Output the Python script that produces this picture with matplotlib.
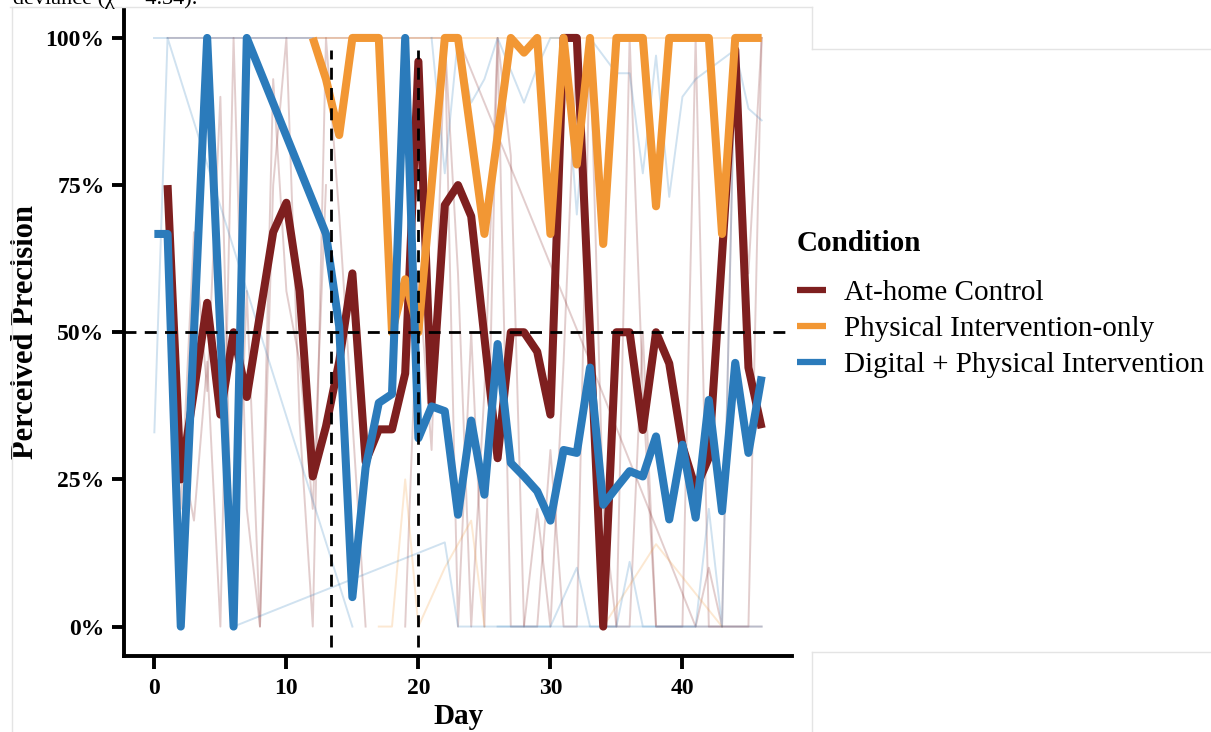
import matplotlib
matplotlib.use("Agg")
import matplotlib.pyplot as plt
from matplotlib.lines import Line2D

plt.rcParams['font.family'] = ['Liberation Serif', 'DejaVu Serif']

conditions = ["At-home Control", "Physical Intervention-only",
              "Digital + Physical Intervention"]
colors = ["#7e1f1f", "#f29734", "#2b7bbb"]

# daily group means (percent)
control_days = [1, 2, 4, 5, 6, 7, 9, 10, 11, 12, 13, 14, 15, 16, 17, 18, 19, 20,
                21, 22, 23, 24, 26, 27, 28, 29, 30, 31, 32, 34, 35, 36, 37, 38,
                39, 40, 41, 42, 43, 44, 45, 46]
control_vals = [75, 25, 55, 36, 50, 39, 67, 72, 57, 25.5, 34, 45, 60, 28, 33.5, 33.5, 43, 96,
                38, 71.6, 75, 69.7, 28.6, 50, 50, 46.7, 36, 100, 100, 0, 50, 50, 33.4, 50,
                44.7, 30.7, 23.4, 28.7, 63, 98, 44, 33.7]

physical_days = [12, 13, 14, 15, 16, 17, 18, 19, 20, 22, 23, 25, 27, 28, 29, 30, 31,
                 32, 33, 34, 35, 36, 37, 38, 39, 40, 41, 42, 43, 44, 45, 46]
physical_vals = [100, 93, 83.5, 100, 100, 100, 50, 59, 50, 100, 100, 66.7, 100, 97.5,
                 100, 66.7, 100, 78.5, 100, 65, 100, 100, 100, 71.4, 100, 100, 100,
                 100, 66.7, 100, 100, 100]

digital_days = [0, 1, 2, 4, 6, 7, 13, 14, 15, 16, 17, 18, 19, 20, 21, 22, 23, 24, 25,
                26, 27, 28, 29, 30, 31, 32, 33, 34, 35, 36, 37, 38, 39, 40, 41, 42,
                43, 44, 45, 46]
digital_vals = [66.7, 66.7, 0, 100, 0, 100, 66.7, 51, 5, 27, 38, 39.5, 100, 32, 37.4,
                36.6, 19, 35, 22.4, 48, 27.8, 25.5, 23, 18, 30, 29.5, 44, 20.7, 23.6,
                26.4, 25.5, 32.3, 18.2, 30.9, 18.5, 38.5, 19.6, 44.8, 29.5, 42.5]

# individual participants (faint), rough estimates
faint_control = [
    ([1, 23, 33, 41, 46], [100, 100, 45, 0, 0]),
    ([1, 2, 3, 4, 5, 6, 7, 8, 9, 10, 11, 12, 13],
     [55, 20, 67, 40, 90, 0, 57, 0, 93, 57, 45, 20, 75]),
    ([2, 3, 4, 5, 6, 7, 8, 9, 10, 11, 12, 13, 14, 15, 16],
     [30, 18, 45, 0, 100, 20, 0, 75, 100, 35, 0, 100, 70, 35, 0]),
    (list(range(19, 47)),
     [0, 60, 30, 100, 60, 0, 40, 100, 0, 0, 20, 0, 45, 100, 55, 0, 0, 100, 40, 0,
      0, 0, 0, 10, 0, 100, 60, 100]),
    (list(range(22, 47)),
     [100, 0, 50, 0, 100, 80, 0, 0, 30, 0, 0, 100, 20, 0, 0, 50, 0, 0, 0, 100, 0,
      0, 0, 0, 100]),
]
faint_physical = [
    ([12, 46], [100, 100]),
    ([17, 18, 19, 20, 22, 24, 25], [0, 0, 25, 0, 10, 18, 0]),
    ([34, 38, 43], [0, 14, 0]),
]
faint_digital = [
    ([0, 12], [100, 100]),
    ([0, 1, 15], [33, 100, 0]),
    ([6, 22, 23, 46], [0, 14.3, 0, 0]),
    ([21, 22, 23, 24, 25, 26, 28, 29, 30, 31, 32, 33, 35, 36, 37, 38, 39, 40, 41,
      44, 45, 46],
     [100, 77, 100, 89, 93, 100, 89, 95, 100, 100, 70, 100, 94, 94, 77, 97, 73, 90,
      93, 98, 88, 86]),
    ([26, 28, 30, 32, 33, 35, 36, 37, 41, 42, 43, 44],
     [0, 0, 0, 10, 0, 0, 11, 0, 0, 20, 0, 100]),
]

fig = plt.figure(figsize=(12.11, 7.32), dpi=100)
ax = fig.add_axes([124 / 1211, 76 / 732, 668 / 1211, 647.5 / 732])

for group, col in zip([faint_control, faint_physical, faint_digital], colors):
    for d, v in group:
        ax.plot(d, v, color=col, alpha=0.22, lw=1.4, zorder=1)

handles = []
for d, v, col in zip([control_days, physical_days, digital_days],
                     [control_vals, physical_vals, digital_vals], colors):
    h, = ax.plot(d, v, color=col, lw=5.8, solid_joinstyle='round',
                 solid_capstyle='butt', zorder=3)
    handles.append(h)

ax.axhline(50, color='black', lw=2, ls=(0, (4.3, 3)), zorder=5)
ax.vlines([13.4, 20], -3.5, 98, color='black', lw=2, linestyles=[(0, (4.3, 3))], zorder=5)

ax.set_xlim(-2.3, 48.3)
ax.set_ylim(-5, 105)
ax.set_xticks([0, 10, 20, 30, 40])
ax.set_yticks([0, 25, 50, 75, 100])
ax.set_yticklabels(['0%', '25%', '50%', '75%', '100%'])
for s in ['top', 'right']:
    ax.spines[s].set_visible(False)
for s in ['left', 'bottom']:
    ax.spines[s].set_linewidth(2.8)
ax.tick_params(width=2.8, length=9, labelsize=17)
ax.tick_params(axis='y', pad=5)
ax.tick_params(axis='x', pad=7)
for lab in ax.get_xticklabels() + ax.get_yticklabels():
    lab.set_fontweight('bold')
ax.set_xlabel("Day", fontsize=21, fontweight='bold', labelpad=3)
ax.set_ylabel("Perceived Precision", fontsize=22, fontweight='bold', labelpad=4)

leg = fig.legend(handles, conditions, loc='upper left',
                 bbox_to_anchor=(797 / 1211, 1 - 230 / 732), frameon=False,
                 prop={'size': 21}, title='Condition',
                 title_fontproperties={'weight': 'bold', 'size': 21},
                 alignment='left', handlelength=1.0, handletextpad=0.6,
                 labelspacing=0.32, borderpad=0, borderaxespad=0)
for h in leg.legend_handles:
    h.set_linewidth(4.5)
# extra gap between legend title and entries
leg._legend_box.sep = 16.5

# cropped caption line above the panel and faint panel borders
fig.text(13 / 1211, 1 - 4 / 732, "deviance (\u03c7\u00b2 = 4.34).", fontsize=16,
         va='baseline')
border = '#e4e4e4'
for xs, ys in [([10, 812], [7, 7]), ([12, 12], [7, 732]), ([812, 812], [7, 49]),
               ([812, 812], [652, 732]), ([812, 1211], [49, 49]),
               ([812, 1211], [652, 652])]:
    fig.add_artist(Line2D([x / 1211 for x in xs], [1 - y / 732 for y in ys],
                          transform=fig.transFigure, color=border, lw=1))

fig.savefig('out.png', dpi=100)
